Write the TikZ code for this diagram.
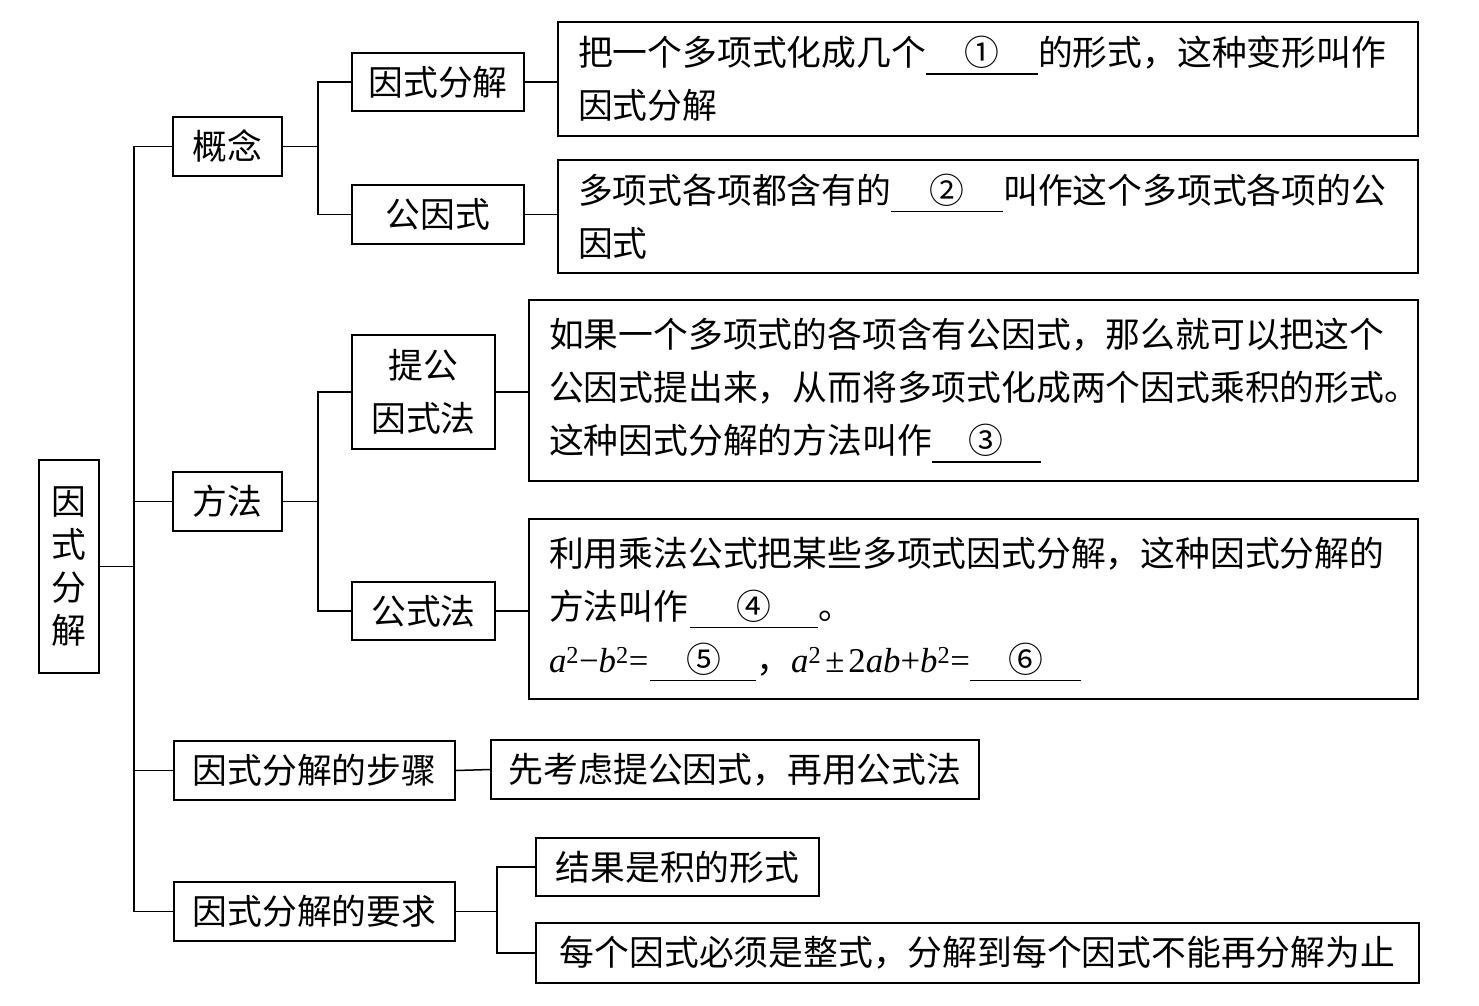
\documentclass[tikz,border=0pt]{standalone}
\usepackage{fontspec}
\setmainfont{Noto Sans CJK SC}
\newfontfamily\lsf{Liberation Serif}

% blank to be filled in
\newcommand{\blank}[2][112pt]{\makebox[0pt][l]{\rule[-9pt]{#1}{1.4pt}}\makebox[#1]{#2}}

\begin{document}
\begin{tikzpicture}[x=1pt, y=-1pt,
    every node/.style={font=\fontsize{34.8pt}{53pt}\selectfont},
    box/.style={draw, line width=1.5pt, inner sep=0pt, align=center},
    descbox/.style={draw, line width=1.5pt, inner xsep=20pt, inner ysep=0pt, align=left}]

   \useasboundingbox (0,0) rectangle (1479,1005);

   \def\xt{134}; % trunk
   \def\xa{318}; % branch of gainian / fangfa
   \def\xb{497}; % branch of yaoqiu
   \def\yr{566.5}; % root middle

   % root and first level
   \node[box, minimum width=60pt, minimum height=213pt, font=\fontsize{34.8pt}{43pt}\selectfont]
      (root) at (69, \yr) {因\\式\\分\\解};
   \node[box, minimum width=109pt, minimum height=59pt] (gn) at (227.5, 146.5) {概念};
   \node[box, minimum width=109pt, minimum height=59pt] (ff) at (227.5, 501.5) {方法};
   \node[box, minimum width=281pt, minimum height=59pt] (bz) at (314.5, 770.5) {因式分解的步骤};
   \node[box, minimum width=281pt, minimum height=59pt] (yq) at (314.5, 911.5) {因式分解的要求};

   % second level
   \node[box, minimum width=172pt, minimum height=58pt] (fj) at (438, 82) {因式分解};
   \node[box, minimum width=172pt, minimum height=59pt] (ggs) at (438, 214.5) {公因式};
   \node[box, minimum width=143pt, minimum height=114pt] (tg) at (423.5, 392) {提公\\因式法};
   \node[box, minimum width=143pt, minimum height=58pt] (gsf) at (423.5, 611) {公式法};

   % descriptions
   \node[descbox, text width=820pt, minimum width=860pt, minimum height=114pt] (d1) at (988, 79)
      {把一个多项式化成几个\blank{①}的形式，这种变形叫作\\因式分解};
   \node[descbox, text width=820pt, minimum width=860pt, minimum height=113pt] (d2) at (988, 216.5)
      {多项式各项都含有的\blank{②}叫作这个多项式各项的公\\因式};
   \node[descbox, text width=849pt, minimum width=889pt, minimum height=181pt] (d3) at (973.5, 390.5)
      {如果一个多项式的各项含有公因式，那么就可以把这个\\
       公因式提出来，从而将多项式化成两个因式乘积的形式\rlap{。}\\
       这种因式分解的方法叫作\blank[109pt]{③}};
   \node[descbox, text width=849pt, minimum width=889pt, minimum height=180pt] (d4) at (973.5, 609)
      {利用乘法公式把某些多项式因式分解，这种因式分解的\\
       方法叫作\hspace{2pt}\blank[128pt]{④}。\\
       {\lsf\textit{a}\textsuperscript{2}−\textit{b}\textsuperscript{2}=}\hspace{2pt}\blank[106pt]{⑤}，%
       {\lsf\textit{a}\textsuperscript{2}\hspace{4pt}±\hspace{4pt}2\textit{ab}+\textit{b}\textsuperscript{2}=}\blank[111pt]{⑥}};
   \node[box, minimum width=488pt, minimum height=59pt] (dbz) at (735, 769.5) {先考虑提公因式，再用公式法};
   \node[box, minimum width=283pt, minimum height=58pt] (dyq1) at (677.5, 867) {结果是积的形式};
   \node[box, minimum width=883pt, minimum height=60pt] (dyq2) at (977.5, 953) {每个因式必须是整式，分解到每个因式不能再分解为止};

   % connectors
   \begin{scope}[line width=1.5pt]
      \draw (root.east) -- (\xt, \yr);
      \draw (gn.west) -| (\xt, \yr) |- (yq.west);
      \draw (ff.west) -- (\xt, 501.5);
      \draw (bz.west) -- (\xt, 770.5);

      \draw (gn.east) -- (\xa, 146.5);
      \draw (fj.west) -| (\xa, 146.5) |- (ggs.west);
      \draw (ff.east) -- (\xa, 501.5);
      \draw (tg.west) -| (\xa, 501.5) |- (gsf.west);

      \draw (fj.east) -- (fj.east -| d1.west);
      \draw (ggs.east) -- (ggs.east -| d2.west);
      \draw (tg.east) -- (tg.east -| d3.west);
      \draw (gsf.east) -- (gsf.east -| d4.west);
      \draw (bz.east) -- (dbz.west);

      \draw (yq.east) -- (\xb, 911.5);
      \draw (dyq1.west) -| (\xb, 911.5) |- (dyq2.west);
   \end{scope}

\end{tikzpicture}
\end{document}
